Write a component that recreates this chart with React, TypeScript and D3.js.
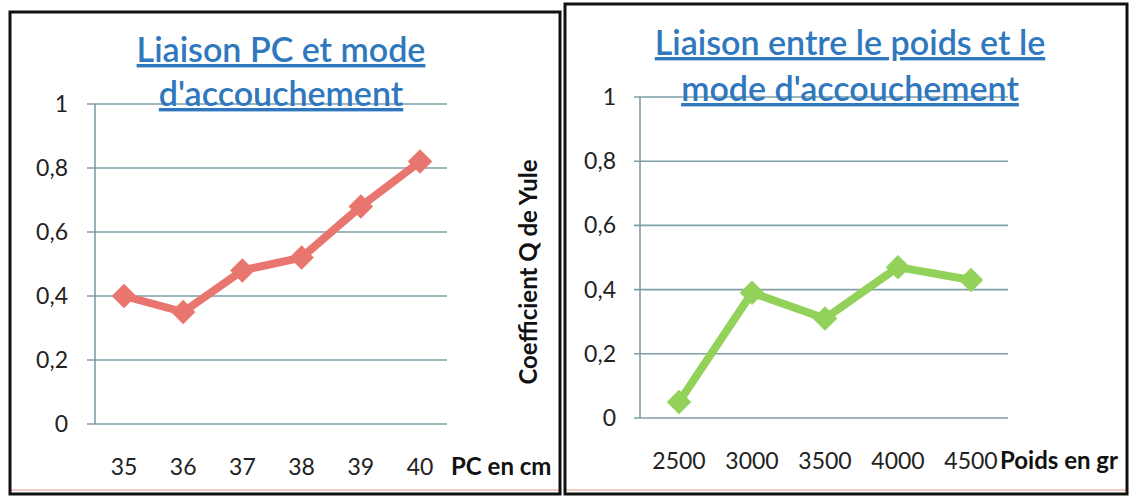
import React from "react";
import * as d3 from "d3";

const pcCategories = ["35", "36", "37", "38", "39", "40"];
const pcValues = [0.4, 0.35, 0.48, 0.52, 0.68, 0.82];
const weightCategories = ["2500", "3000", "3500", "4000", "4500"];
const weightValues = [0.05, 0.39, 0.31, 0.47, 0.43];
const yTicks = [0, 0.2, 0.4, 0.6, 0.8, 1];
const leftTitle = ["Liaison PC et mode", "d'accouchement"];
const rightTitle = ["Liaison entre le poids et le", "mode d'accouchement"];
const leftXLabel = "PC en cm";
const rightXLabel = "Poids en gr";
const yTitle = "Coefficient Q de Yule";

const FONT = "Lato, 'Open Sans', sans-serif";
const fmt = (v: number) => String(v).replace(".", ",");

type PanelProps = {
  cats: string[];
  vals: number[];
  xRange: [number, number];
  yRange: [number, number];
  gridX: [number, number];
  axisX: number;
  labelRight: number;
  xLabelY: number;
  color: string;
  title: string[];
  titleX: number;
  titleY: [number, number];
  titleSize: number;
};

function Panel(p: PanelProps) {
  const x = d3.scalePoint<string>().domain(p.cats).range(p.xRange);
  const y = d3.scaleLinear().domain([0, 1]).range(p.yRange);
  const line = d3
    .line<number>()
    .x((_, i) => x(p.cats[i]) as number)
    .y((d) => y(d));
  const diamond = d3.symbol().type(d3.symbolSquare).size(300)();
  return (
    <g>
      {yTicks.map((t) => (
        <g key={t}>
          <line x1={p.gridX[0]} x2={p.gridX[1]} y1={y(t)} y2={y(t)} stroke="#7f9ea6" strokeWidth={1.6} />
          <text x={p.labelRight} y={y(t)} dy="0.35em" textAnchor="end" fontFamily={FONT} fontSize={23} fill="#222">
            {fmt(t)}
          </text>
        </g>
      ))}
      <line x1={p.axisX} x2={p.axisX} y1={y(1)} y2={y(0)} stroke="#7f9ea6" strokeWidth={1.6} />
      {p.cats.map((c) => (
        <text key={c} x={x(c)} y={p.xLabelY} textAnchor="middle" fontFamily={FONT} fontSize={23} fill="#222">
          {c}
        </text>
      ))}
      <path d={line(p.vals) || ""} fill="none" stroke={p.color} strokeWidth={8} strokeLinejoin="round" />
      {p.vals.map((v, i) => (
        <path key={i} d={diamond || ""} transform={`translate(${x(p.cats[i])},${y(v)}) rotate(45)`} fill={p.color} />
      ))}
      {p.title.map((t, i) => (
        <text
          key={i}
          x={p.titleX}
          y={p.titleY[i]}
          textAnchor="middle"
          fontFamily={FONT}
          fontWeight={600}
          fontSize={p.titleSize}
          fill="#2f78bd"
          textDecoration="underline"
        >
          {t}
        </text>
      ))}
    </g>
  );
}

export default function App() {
  return (
    <svg width={1136} height={497} style={{ position: "absolute", left: 0, top: 0, background: "#fff" }}>
      <rect x={0} y={0} width={1136} height={497} fill="#fff" />
      {/* panel frames */}
      <line x1={10} x2={560} y1={490} y2={490} stroke="#f2b8a8" strokeWidth={1.5} />
      <line x1={566} x2={1127} y1={490} y2={490} stroke="#f2b8a8" strokeWidth={1.5} />
      <rect x={10} y={12} width={550} height={482} fill="none" stroke="#111" strokeWidth={3} />
      <rect x={565} y={4} width={562} height={490} fill="none" stroke="#111" strokeWidth={3} />

      <Panel
        cats={pcCategories}
        vals={pcValues}
        xRange={[124, 420]}
        yRange={[424, 104]}
        gridX={[87, 447]}
        axisX={95}
        labelRight={68}
        xLabelY={475}
        color="#e8766f"
        title={leftTitle}
        titleX={281}
        titleY={[62, 106]}
        titleSize={34}
      />
      <Panel
        cats={weightCategories}
        vals={weightValues}
        xRange={[679, 971]}
        yRange={[418, 97]}
        gridX={[634, 1008]}
        axisX={640}
        labelRight={616}
        xLabelY={469}
        color="#93d25a"
        title={rightTitle}
        titleX={850}
        titleY={[55, 101]}
        titleSize={34}
      />
      <text x={451} y={475} fontFamily={FONT} fontWeight="bold" fontSize={24} fill="#111">
        {leftXLabel}
      </text>
      <text x={1000} y={469} fontFamily={FONT} fontWeight="bold" fontSize={24} fill="#111">
        {rightXLabel}
      </text>
      <text
        transform="translate(537,272) rotate(-90)"
        textAnchor="middle"
        fontFamily={FONT}
        fontWeight="bold"
        fontSize={24}
        fill="#111"
      >
        {yTitle}
      </text>
    </svg>
  );
}
